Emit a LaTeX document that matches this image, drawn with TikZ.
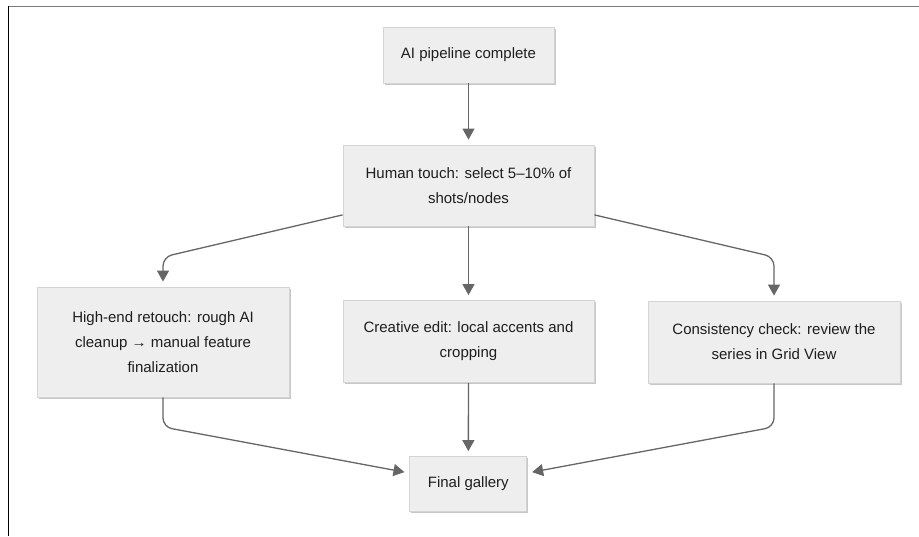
\documentclass[tikz,border=0pt]{standalone}
\usepackage{fontspec}
\setmainfont{Liberation Sans}
\usetikzlibrary{arrows.meta,shadows}
\definecolor{boxfill}{HTML}{EEEEEE}
\definecolor{boxline}{HTML}{D4D4D4}
\definecolor{textcol}{HTML}{1E1E1E}
\definecolor{arrowcol}{HTML}{666666}
\definecolor{framegray}{HTML}{7A7A7A}
\begin{document}
\begin{tikzpicture}[x=1pt,y=-1pt,
  box/.style={draw=boxline, line width=0.8pt, fill=boxfill, inner sep=0pt,
    align=center, text=textcol, font=\fontsize{15}{25}\selectfont,
    drop shadow={shadow xshift=1.5pt, shadow yshift=-1.8pt, opacity=0.22, fill=black}},
  flow/.style={draw=arrowcol, line width=1.3pt, rounded corners=9pt,
    -{Triangle[length=11pt,width=12pt]}, shorten >=5pt}
]
% canvas and frame lines
\useasboundingbox (0,0) rectangle (919,536);
\draw[framegray, line width=1.5pt] (8,6.5) -- (919,6.5);
\draw[black, line width=1pt] (8,6) -- (8,536);

% process steps
\node[box, minimum width=171pt, minimum height=56pt] (a) at (468.5,55) {AI pipeline complete};
\node[box, minimum width=251pt, minimum height=81pt] (h) at (468.5,185.5) {Human touch: select 5–10\% of\\shots/nodes};
\node[box, minimum width=252pt, minimum height=110pt] (l) at (163,342) {High-end retouch: rough AI\\cleanup → manual feature\\finalization};
\node[box, minimum width=251pt, minimum height=82pt] (m) at (468.5,341.5) {Creative edit: local accents and\\cropping};
\node[box, minimum width=252pt, minimum height=82pt] (r) at (774,342) {Consistency check: review the\\series in Grid View};
\node[box, minimum width=117pt, minimum height=55pt] (f) at (468.3,484) {Final gallery};

% bend points of the branching connectors
\coordinate (lt) at (163,257);
\coordinate (rt) at (774,257);
\coordinate (lb) at (163,427);
\coordinate (rb) at (774,427);

% connectors
\draw[flow] (a) -- (h);
\draw[flow] (h) -- (lt) -- (l);
\draw[flow] (h) -- (m);
\draw[flow] (h) -- (rt) -- (r);
\draw[flow] (l) -- (lb) -- (f);
\draw[flow] (m) -- (f);
\draw[flow] (r) -- (rb) -- (f);
\end{tikzpicture}
\end{document}
